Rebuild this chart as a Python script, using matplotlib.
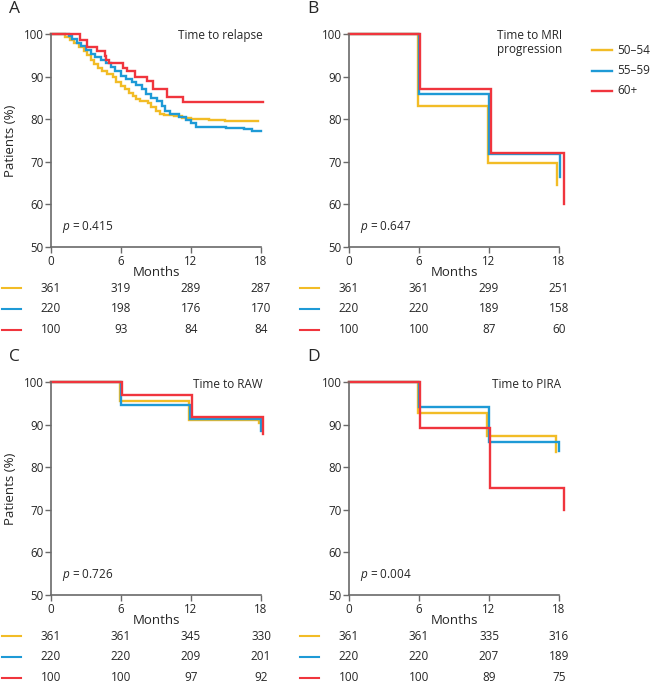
import matplotlib
matplotlib.use("Agg")
import matplotlib.pyplot as plt
import matplotlib.transforms as mtransforms
from matplotlib.lines import Line2D

plt.rcParams['font.family'] = ['Open Sans', 'DejaVu Sans']
plt.rcParams['mathtext.fontset'] = 'custom'
plt.rcParams['mathtext.it'] = 'Open Sans:italic'
plt.rcParams['mathtext.rm'] = 'Open Sans'

# ---------------- data ----------------
groups = ["50\u201354", "55\u201359", "60+"]
colors = ["#F2BC26", "#1E9AD6", "#F0353D"]
xticks = [0, 6, 12, 18]
yticks = [50, 60, 70, 80, 90, 100]

# Panel A: time to relapse
relapse_t_5054 = [0, 1.2, 1.6, 2.0, 2.4, 2.8, 3.1, 3.4, 3.7, 4.0, 4.4, 4.8, 5.3, 5.6, 6.0, 6.3, 6.7,
                  7.0, 7.3, 7.6, 8.3, 8.6, 9.0, 9.3, 9.7, 10.5, 11.2, 12.0, 13.5, 14.9, 17.7]
relapse_s_5054 = [100, 99.3, 98.6, 98.0, 97.0, 96.0, 95.0, 94.0, 93.0, 92.0, 91.2, 90.5, 89.8, 88.8,
                  87.8, 87.0, 86.2, 85.5, 84.8, 84.3, 83.8, 82.8, 82.0, 81.3, 81.0, 80.7, 80.3, 80.1,
                  79.9, 79.5, 79.5]
relapse_t_5559 = [0, 1.5, 1.8, 2.2, 2.6, 3.0, 3.4, 3.8, 4.3, 4.7, 5.1, 5.5, 6.0, 6.4, 6.9, 7.3, 7.8,
                  8.1, 8.6, 9.1, 9.5, 9.8, 10.2, 11.0, 11.6, 12.0, 12.4, 15.0, 16.5, 17.2, 18.0]
relapse_s_5559 = [100, 99.5, 98.8, 98.0, 97.2, 96.3, 95.3, 94.6, 94.0, 93.2, 92.2, 91.2, 90.2, 89.5,
                  88.8, 88.0, 87.0, 86.0, 85.0, 84.2, 83.0, 82.0, 81.2, 80.5, 79.8, 79.0, 78.2, 78.0,
                  77.7, 77.3, 77.3]
relapse_t_60 = [0, 2.5, 3.1, 3.9, 4.6, 4.7, 5.0, 6.2, 6.5, 7.2, 8.2, 8.7, 9.9, 11.3, 18.2]
relapse_s_60 = [100, 98.7, 97.0, 96.0, 94.8, 94.0, 93.1, 92.1, 91.3, 90.0, 89.0, 87.0, 85.1, 84.1, 84.1]

# Panel B: time to MRI progression
mri_t_5054 = [0, 5.9, 11.9, 17.8, 17.8]
mri_s_5054 = [100, 83.0, 69.7, 64.5, 64.5]
mri_t_5559 = [0, 6.0, 12.0, 18.1, 18.1]
mri_s_5559 = [100, 86.0, 71.9, 66.4, 66.4]
mri_t_60 = [0, 6.1, 12.2, 18.4, 18.4]
mri_s_60 = [100, 87.0, 72.1, 60.0, 60.0]

# Panel C: time to RAW
raw_t_5054 = [0, 5.9, 11.8, 17.8, 17.8]
raw_s_5054 = [100, 95.5, 91.1, 90.4, 90.4]
raw_t_5559 = [0, 6.0, 11.9, 18.0, 18.0]
raw_s_5559 = [100, 94.7, 91.3, 88.5, 88.5]
raw_t_60 = [0, 6.1, 12.1, 18.2, 18.2]
raw_s_60 = [100, 97.0, 91.8, 87.7, 87.7]

# Panel D: time to PIRA
pira_t_5054 = [0, 5.9, 11.8, 17.7, 17.7]
pira_s_5054 = [100, 92.7, 87.3, 83.6, 83.6]
pira_t_5559 = [0, 6.0, 12.0, 18.0, 18.0]
pira_s_5559 = [100, 94.2, 86.0, 83.8, 83.8]
pira_t_60 = [0, 6.1, 12.1, 18.4, 18.4]
pira_s_60 = [100, 89.2, 75.2, 70.0, 70.0]

# numbers at risk
risk_relapse = [[361, 319, 289, 287], [220, 198, 176, 170], [100, 93, 84, 84]]
risk_mri = [[361, 361, 299, 251], [220, 220, 189, 158], [100, 100, 87, 60]]
risk_raw = [[361, 361, 345, 330], [220, 220, 209, 201], [100, 100, 97, 92]]
risk_pira = [[361, 361, 335, 316], [220, 220, 207, 189], [100, 100, 89, 75]]

titles = ["Time to relapse", "Time to MRI\nprogression", "Time to RAW", "Time to PIRA"]
pvalues = ["0.415", "0.647", "0.726", "0.004"]
letters = ["A", "B", "C", "D"]

# ---------------- figure ----------------
W, H = 650, 683
fig = plt.figure(figsize=(W / 100, H / 100), dpi=100)

def fy(ypx):
    return (H - ypx) / H

def fx(xpx):
    return xpx / W

panels = [
    dict(left=51, top=34, curves=[(relapse_t_5054, relapse_s_5054), (relapse_t_5559, relapse_s_5559), (relapse_t_60, relapse_s_60)], risk=risk_relapse),
    dict(left=349, top=34, curves=[(mri_t_5054, mri_s_5054), (mri_t_5559, mri_s_5559), (mri_t_60, mri_s_60)], risk=risk_mri),
    dict(left=51, top=382, curves=[(raw_t_5054, raw_s_5054), (raw_t_5559, raw_s_5559), (raw_t_60, raw_s_60)], risk=risk_raw),
    dict(left=349, top=382, curves=[(pira_t_5054, pira_s_5054), (pira_t_5559, pira_s_5559), (pira_t_60, pira_s_60)], risk=risk_pira),
]
axw, axh = 210, 213
spine_col = "#6a6a6a"
txt_col = "#262626"

for i, p in enumerate(panels):
    left, top = p["left"], p["top"]
    ax = fig.add_axes([fx(left), fy(top + axh), axw / W, axh / H])
    for (t, s), c in zip(p["curves"], colors):
        ax.step(t, s, where="post", color=c, lw=1.7, clip_on=False, solid_joinstyle="miter")
    ax.set_xlim(0, 18)
    ax.set_ylim(50, 100)
    ax.set_xticks(xticks)
    ax.set_yticks(yticks)
    for sp in ["top", "right"]:
        ax.spines[sp].set_visible(False)
    for sp in ["left", "bottom"]:
        ax.spines[sp].set_color(spine_col)
        ax.spines[sp].set_linewidth(1.2)
    ax.tick_params(axis="both", direction="out", length=4, width=1, color=spine_col,
                   labelsize=8.3, labelcolor=txt_col, pad=1.5)
    ax.set_xlabel("Months", fontsize=9.5, color=txt_col, labelpad=-1)
    if i in (0, 2):
        ax.set_ylabel("Patients (%)", fontsize=9.5, color=txt_col, labelpad=5)
    ax.patch.set_alpha(0)

    # title
    if i == 1:
        fig.text(fx(left + 213), fy(top - 5), titles[i], ha="right", va="top",
                 fontsize=8.5, color=txt_col, linespacing=1.1)
    else:
        fig.text(fx(left + 212), fy(top + 2), titles[i], ha="right", va="center",
                 fontsize=8.5, color=txt_col)
    # p value
    fig.text(fx(left + 11), fy(top + 193), r"$\it{p}$ = " + pvalues[i], ha="left", va="center",
             fontsize=8.5, color=txt_col)
    # panel letter
    fig.text(fx(left - 42), fy(top - 25), letters[i], ha="left", va="center",
             fontsize=12.5, color=txt_col)

    # numbers at risk
    trans = mtransforms.blended_transform_factory(ax.transData, fig.transFigure)
    for r, (row, c) in enumerate(zip(p["risk"], colors)):
        ypx = top + axh + 41 + r * 20.8
        for xv, n in zip(xticks, row):
            fig.text(xv, fy(ypx), str(n), transform=trans, ha="center", va="center",
                     fontsize=8.5, color=txt_col)
        x0 = left - 49
        fig.add_artist(Line2D([fx(x0), fx(x0 + 19)], [fy(ypx), fy(ypx)], color=c, lw=1.5,
                              transform=fig.transFigure))

# legend
for k, (g, c) in enumerate(zip(groups, colors)):
    ypx = 50 + k * 20.5
    fig.add_artist(Line2D([fx(592), fx(612)], [fy(ypx), fy(ypx)], color=c, lw=1.7,
                          transform=fig.transFigure))
    fig.text(fx(617), fy(ypx), g, ha="left", va="center", fontsize=8.5, color=txt_col)

fig.savefig("out.png", dpi=100)
